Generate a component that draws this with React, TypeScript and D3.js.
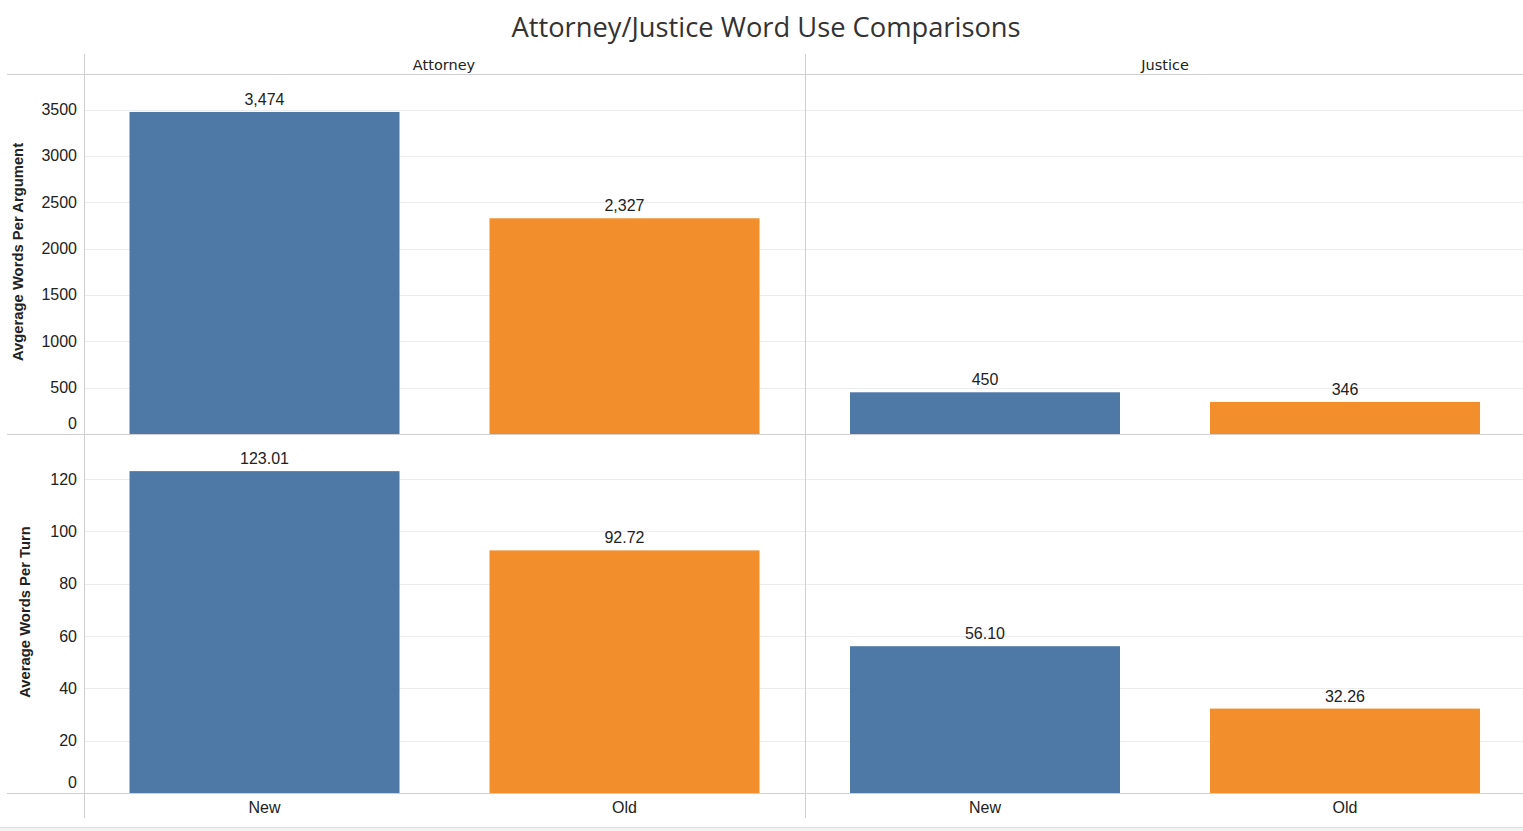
import React from "react";
import * as d3 from "d3";

const roles = ["Attorney", "Justice"];
const categories = ["New", "Old"];
const attorneyPerArgument = [3474, 2327];
const justicePerArgument = [450, 346];
const attorneyPerTurn = [123.01, 92.72];
const justicePerTurn = [56.1, 32.26];
const argumentTicks = [0, 500, 1000, 1500, 2000, 2500, 3000, 3500];
const turnTicks = [0, 20, 40, 60, 80, 100, 120];
const colors = ["#4e79a7", "#f28e2b"];

const W = 1523;
const H = 831;
const FONT = "'Liberation Sans', Arial, sans-serif";

export default function App() {
  const left = 85;
  const right = W;
  const mid = 806;
  const headerTop = 54;
  const headerBottom = 74.5;
  const rowSplit = 434;
  const bottom = 793;

  const paneRanges: [number, number][] = [
    [84.5, 804.5],
    [805, 1525],
  ];
  const headerCenters = [444, 1165];
  const xScales = paneRanges.map((r) =>
    d3.scaleBand<string>().domain(categories).range(r).paddingInner(0.25).paddingOuter(0.125)
  );

  const yTop = d3.scaleLinear().domain([0, 3878]).range([rowSplit, headerBottom]);
  const yBot = d3.scaleLinear().domain([0, 137.2]).range([bottom, rowSplit]);

  const rows = [
    {
      y: yTop,
      ticks: argumentTicks,
      data: [attorneyPerArgument, justicePerArgument],
      fmt: d3.format(",.0f"),
      title: "Avgerage Words Per Argument",
      titleX: 23,
      titleY: 252,
    },
    {
      y: yBot,
      ticks: turnTicks,
      data: [attorneyPerTurn, justicePerTurn],
      fmt: d3.format(".2f"),
      title: "Average Words Per Turn",
      titleX: 30,
      titleY: 612,
    },
  ];

  return (
    <svg
      width={W}
      height={H}
      style={{ position: "absolute", left: 0, top: 0, background: "#fff" }}
      fontFamily={FONT}
    >
      <text
        x={766}
        y={37}
        textAnchor="middle"
        fontSize={27.3}
        fill="#333"
        fontFamily="'Open Sans', 'Noto Sans', sans-serif"
      >
        Attorney/Justice Word Use Comparisons
      </text>

      {/* gridlines */}
      {rows.map((row, ri) =>
        row.ticks
          .filter((t) => t !== 0)
          .map((t) => (
            <line
              key={`g${ri}-${t}`}
              x1={left}
              x2={right}
              y1={Math.round(row.y(t)) + 0.5}
              y2={Math.round(row.y(t)) + 0.5}
              stroke="#ececec"
              strokeWidth={1}
            />
          ))
      )}

      {/* bars */}
      {rows.map((row, ri) =>
        roles.map((role, pi) =>
          categories.map((cat, ci) => {
            const v = row.data[pi][ci];
            const x = xScales[pi](cat)!;
            const bw = xScales[pi].bandwidth();
            const y0 = row.y(0);
            const y1 = row.y(v);
            return (
              <g key={`b${ri}-${pi}-${ci}`}>
                <rect x={x} y={y1} width={bw} height={y0 - y1} fill={colors[ci]} />
                <text
                  x={x + bw / 2}
                  y={y1 - 7}
                  textAnchor="middle"
                  fontSize={16}
                  fill="#222"
                >
                  {row.fmt(v)}
                </text>
              </g>
            );
          })
        )
      )}

      {/* tick labels */}
      {rows.map((row, ri) =>
        row.ticks.map((t) => (
          <text
            key={`t${ri}-${t}`}
            x={77}
            y={row.y(t) + (t === 0 ? -5 : 5.5)}
            textAnchor="end"
            fontSize={16}
            fill="#222"
          >
            {t}
          </text>
        ))
      )}

      {/* axis titles */}
      {rows.map((row, ri) => (
        <text
          key={`at${ri}`}
          transform={`translate(${row.titleX},${row.titleY}) rotate(-90)`}
          textAnchor="middle"
          fontSize={14.8}
          fontWeight="bold"
          fill="#222"
        >
          {row.title}
        </text>
      ))}

      {/* header labels */}
      {roles.map((role, pi) => (
        <text
          key={`h${role}`}
          x={headerCenters[pi]}
          y={69.5}
          textAnchor="middle"
          fontSize={14.5}
          fill="#222"
          fontFamily="'DejaVu Sans', Verdana, sans-serif"
        >
          {role}
        </text>
      ))}

      {/* category labels */}
      {roles.map((role, pi) =>
        categories.map((cat) => (
          <text
            key={`c${role}-${cat}`}
            x={xScales[pi](cat)! + xScales[pi].bandwidth() / 2}
            y={813}
            textAnchor="middle"
            fontSize={16}
            fill="#222"
          >
            {cat}
          </text>
        ))
      )}

      {/* structure lines */}
      <line x1={7} x2={W} y1={headerBottom} y2={headerBottom} stroke="#cfcfcf" />
      <line x1={7} x2={W} y1={rowSplit + 0.5} y2={rowSplit + 0.5} stroke="#cfcfcf" />
      <line x1={7} x2={W} y1={bottom + 0.5} y2={bottom + 0.5} stroke="#cfcfcf" />
      <line x1={84.5} x2={84.5} y1={headerTop} y2={818} stroke="#cfcfcf" />
      <line x1={mid - 0.5} x2={mid - 0.5} y1={headerTop} y2={818} stroke="#cfcfcf" />

      {/* bottom band */}
      <rect x={0} y={827} width={W} height={4} fill="#f3f3f3" />
      <line x1={0} x2={W} y1={827.5} y2={827.5} stroke="#dcdcdc" />
    </svg>
  );
}
